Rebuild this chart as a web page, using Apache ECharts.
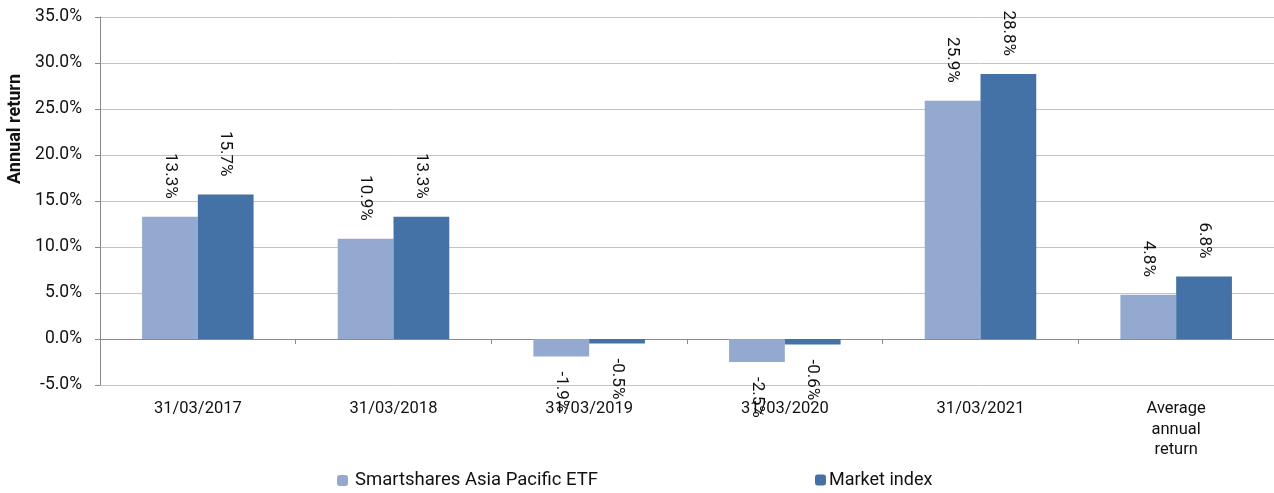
<!DOCTYPE html>
<html><head><meta charset="utf-8">
<script src="https://cdn.jsdelivr.net/npm/echarts@6/dist/echarts.min.js"></script>
<style>html,body{margin:0;padding:0;background:#fff}#c{width:1274px;height:493px}</style>
</head><body><div id="c"></div>
<script>
const categories = ['31/03/2017','31/03/2018','31/03/2019','31/03/2020','31/03/2021','Average\nannual\nreturn'];
const fundName = 'Smartshares Asia Pacific ETF';
const indexName = 'Market index';
const fundValues = [13.3, 10.9, -1.9, -2.5, 25.9, 4.8];
const indexValues = [15.7, 13.3, -0.5, -0.6, 28.8, 6.8];
const yTicks = {min: -5, max: 35, interval: 5};
const yTitle = 'Annual return';

const FONT = 'Roboto';
function labelData(vals){
  return vals.map(v => ({
    value: v,
    label: v >= 0
      ? {position: 'top', align: 'right', verticalAlign: 'middle', distance: 18}
      : {position: 'bottom', align: 'left', verticalAlign: 'middle', distance: 15}
  }));
}
const lbl = {show: true, rotate: -90, fontFamily: FONT, fontSize: 17, color: '#111',
  formatter: p => p.value.toFixed(1) + '%'};

const chart = echarts.init(document.getElementById('c'), null, {renderer: 'canvas'});
chart.setOption({
  animation: false,
  grid: {left: 100, right: 0, top: 17, bottom: 108, containLabel: false},
  legend: [
    {data: [fundName], left: 337, top: 471, itemWidth: 11, itemHeight: 11, itemGap: 0,
     textStyle: {fontFamily: FONT, fontSize: 18.5, color: '#111', padding: [0,0,0,2]}, padding: 0},
    {data: [indexName], left: 815, top: 471, itemWidth: 11, itemHeight: 11,
     textStyle: {fontFamily: FONT, fontSize: 18, color: '#111', padding: [0,0,0,-2]}, padding: 0}
  ],
  graphic: [{type: 'text', left: 6, top: 74, rotation: Math.PI/2,
    style: {text: yTitle, fontFamily: FONT, fontSize: 18, fontWeight: 'bold', fill: '#111'}}],
  xAxis: [
    {type: 'category', data: categories,
     axisLine: {onZero: true, lineStyle: {color: '#8a8a8a', width: 1}},
     axisTick: {show: true, length: 5, lineStyle: {color: '#8a8a8a'}},
     axisLabel: {show: false}, splitLine: {show: false}},
    {type: 'category', data: categories, position: 'bottom',
     axisLine: {show: false, onZero: false}, axisTick: {show: false},
     axisLabel: {show: true, margin: 14, fontFamily: FONT, fontSize: 16.5, color: '#111', lineHeight: 20.5}}
  ],
  yAxis: {type: 'value', min: yTicks.min, max: yTicks.max, interval: yTicks.interval,
    axisLine: {show: true, lineStyle: {color: '#8a8a8a'}},
    axisTick: {show: true, length: 5, lineStyle: {color: '#8a8a8a'}},
    axisLabel: {margin: 18, fontFamily: FONT, fontSize: 17.5, color: '#111',
      formatter: v => v.toFixed(1) + '%'},
    splitLine: {show: true, lineStyle: {color: '#c4c4c4', width: 1}}},
  series: [
    {name: fundName, type: 'bar', data: labelData(fundValues), barGap: '0%', barCategoryGap: '43%',
     itemStyle: {color: '#94A9D0'}, label: lbl},
    {name: indexName, type: 'bar', data: labelData(indexValues), barGap: '0%', barCategoryGap: '43%',
     itemStyle: {color: '#4472A7'}, label: lbl}
  ]
});
</script></body></html>
